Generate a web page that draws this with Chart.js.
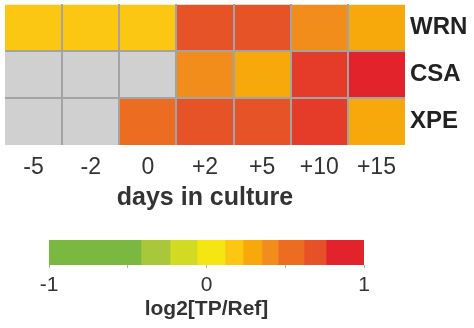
<!DOCTYPE html>
<html>
<head>
<meta charset="utf-8">
<script src="https://cdn.jsdelivr.net/npm/chart.js@4"></script>
<style>
  body { margin: 0; background: #fff; }
  #heat { position: absolute; left: 0; top: 0; width: 474px; height: 210px; }
  #bar { position: absolute; left: 0; top: 225px; width: 474px; height: 100px; }
</style>
</head>
<body>
<div id="heat"><canvas id="chartHeat"></canvas></div>
<div id="bar"><canvas id="chartScale"></canvas></div>
<script>
const days = ["-5", "-2", "0", "+2", "+5", "+10", "+15"];
const genes = ["WRN", "CSA", "XPE"];
const wrn = [0.17, 0.17, 0.17, 0.68, 0.68, 0.40, 0.29];
const csa = [null, null, null, 0.40, 0.29, 0.78, 0.88];
const xpe = [null, null, 0.54, 0.68, 0.68, 0.78, 0.29];

// scala colori a blocchi
const scaleBreaks = [-1, -0.416, -0.232, -0.06, 0.117, 0.232, 0.352, 0.454, 0.619, 0.759, 1];
const scaleColors = ["#7bb842", "#a8c73a", "#d2da24", "#f5e511", "#fcc612",
                     "#f7a90c", "#f28c1c", "#ec6d21", "#e65127", "#e3232b"];

const GRAY = "#a3a3a3";
const MISSING = "#d0d0d0";
const FONT = "'Liberation Sans', Arial, sans-serif";

function hexToRgb(h) {
  return [parseInt(h.slice(1,3),16), parseInt(h.slice(3,5),16), parseInt(h.slice(5,7),16)];
}
// interpolazione tra i centri dei blocchi
function colorFor(v) {
  if (v === null) return MISSING;
  const centers = scaleColors.map((c, i) => (scaleBreaks[i] + scaleBreaks[i+1]) / 2);
  if (v <= centers[0]) return scaleColors[0];
  if (v >= centers[centers.length-1]) return scaleColors[scaleColors.length-1];
  for (let i = 0; i < centers.length - 1; i++) {
    if (v >= centers[i] && v <= centers[i+1]) {
      const t = (v - centers[i]) / (centers[i+1] - centers[i]);
      const a = hexToRgb(scaleColors[i]), b = hexToRgb(scaleColors[i+1]);
      const c = a.map((x, k) => Math.round(x + (b[k] - x) * t));
      return `rgb(${c[0]},${c[1]},${c[2]})`;
    }
  }
  return MISSING;
}

const rows = [wrn, csa, xpe];

// --- Heatmap ---
new Chart(document.getElementById("chartHeat"), {
  type: "bar",
  data: {
    labels: days,
    datasets: rows.map((vals, r) => ({
      label: genes[r],
      data: days.map(() => [r, r + 1]),
      backgroundColor: vals.map(colorFor),
      borderWidth: 0,
      barPercentage: 1,
      categoryPercentage: 1,
      grouped: false
    }))
  },
  options: {
    responsive: true,
    maintainAspectRatio: false,
    animation: false,
    layout: { padding: { left: 5, top: 4, right: 0, bottom: 0 } },
    plugins: { legend: { display: false }, tooltip: { enabled: false } },
    scales: {
      x: {
        offset: true,
        border: { display: false },
        grid: {
          z: 1,
          offset: true,
          drawTicks: false,
          lineWidth: 2,
          color: ctx => (ctx.index > 0 ? GRAY : "transparent")
        },
        ticks: {
          padding: 9,
          autoSkip: false,
          maxRotation: 0,
          color: "#333",
          font: { family: FONT, size: 23 }
        },
        title: {
          display: true,
          text: "days in culture",
          color: "#333",
          padding: { top: 0, bottom: -3 },
          font: { family: FONT, size: 25, weight: "bold" }
        },
        afterFit: s => { s.height = 65; s.paddingLeft = 0; s.paddingRight = 0; }
      },
      y: {
        position: "right",
        reverse: true,
        min: 0,
        max: 3,
        border: { display: false },
        grid: {
          z: 1,
          drawTicks: false,
          lineWidth: 2,
          color: ctx => {
            const v = ctx.tick ? ctx.tick.value : -1;
            return (v === 1 || v === 2) ? GRAY : "transparent";
          }
        },
        ticks: {
          stepSize: 0.5,
          autoSkip: false,
          padding: 5,
          color: "#222",
          font: { family: FONT, size: 24, weight: "bold" },
          callback: v => (v % 1 === 0.5 ? genes[Math.floor(v)] : "")
        },
        afterFit: s => { s.width = 69; s.paddingTop = 0; s.paddingBottom = 0; }
      }
    }
  }
});

// --- Barra colori ---
new Chart(document.getElementById("chartScale"), {
  type: "bar",
  data: {
    labels: [""],
    datasets: scaleColors.map((c, i) => ({
      data: [[scaleBreaks[i], scaleBreaks[i + 1]]],
      backgroundColor: c,
      borderWidth: 0,
      barPercentage: 1,
      categoryPercentage: 1,
      grouped: false
    }))
  },
  options: {
    indexAxis: "y",
    responsive: true,
    maintainAspectRatio: false,
    animation: false,
    layout: { padding: { left: 49, top: 15, right: 110, bottom: 0 } },
    plugins: { legend: { display: false }, tooltip: { enabled: false } },
    scales: {
      x: {
        min: -1,
        max: 1,
        border: { display: false },
        grid: { drawOnChartArea: false, tickLength: 3, color: "#9cc96e" },
        ticks: {
          stepSize: 0.5,
          padding: 5,
          color: "#333",
          font: { family: FONT, size: 21 },
          callback: v => (Number.isInteger(v) ? String(v) : "")
        },
        title: {
          display: true,
          text: "log2[TP/Ref]",
          color: "#333",
          padding: { top: 0, bottom: 3 },
          font: { family: FONT, size: 21, weight: "bold" }
        },
        afterFit: s => { s.height = 60; s.paddingLeft = 0; s.paddingRight = 0; }
      },
      y: { display: false }
    }
  }
});
</script>
</body>
</html>
